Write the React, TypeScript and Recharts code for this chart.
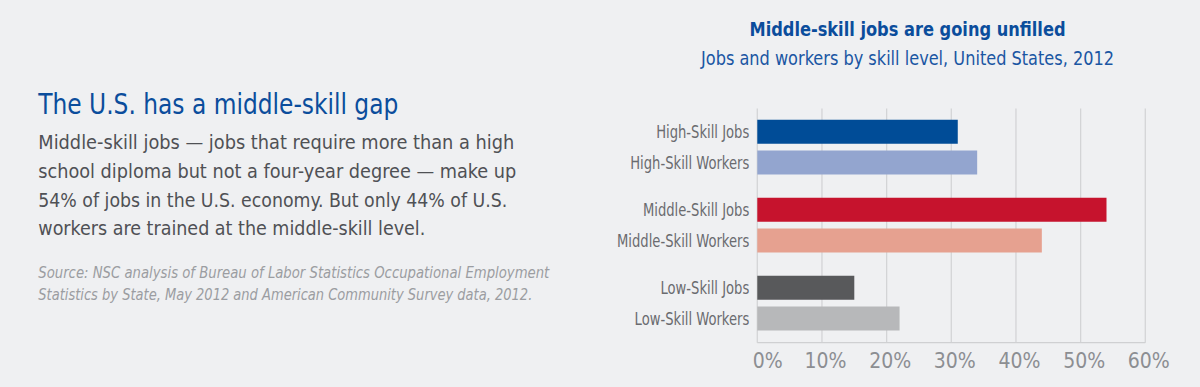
import React from 'react';
import { BarChart, Bar, XAxis, YAxis, CartesianGrid, Cell, LabelList } from 'recharts';

const groups = ['High-Skill', 'Middle-Skill', 'Low-Skill'];
const jobsValues = [31, 54, 15];
const workersValues = [34, 44, 22];
const jobsLabels = ['High-Skill Jobs', 'Middle-Skill Jobs', 'Low-Skill Jobs'];
const workersLabels = ['High-Skill Workers', 'Middle-Skill Workers', 'Low-Skill Workers'];
const jobsColors = ['#004c97', '#c6132d', '#58595b'];
const workersColors = ['#93a5cf', '#e6a190', '#b7b8ba'];
const xTicks = [0, 10, 20, 30, 40, 50, 60];

const title = 'Middle-skill jobs are going unfilled';
const subtitle = 'Jobs and workers by skill level, United States, 2012';
const heading = 'The U.S. has a middle-skill gap';
const bodyLines = [
  'Middle-skill jobs \u2014 jobs that require more than a high',
  'school diploma but not a four-year degree \u2014 make up',
  '54% of jobs in the U.S. economy. But only 44% of U.S.',
  'workers are trained at the middle-skill level.',
];
const sourceLines = [
  'Source: NSC analysis of Bureau of Labor Statistics Occupational Employment',
  'Statistics by State, May 2012 and American Community Survey data, 2012.',
];

const data = groups.map((g, i) => ({
  group: g,
  jobs: jobsValues[i],
  workers: workersValues[i],
  jobsLabel: jobsLabels[i],
  workersLabel: workersLabels[i],
}));

const FONT = "'Liberation Sans Narrow', 'DejaVu Sans Condensed', 'Roboto Condensed', Roboto, 'Liberation Sans', sans-serif";

const renderLabel = (props: any) => {
  const { x, y, height, value } = props;
  const tx = Number(x) - 8;
  const ty = Number(y) + Number(height) / 2;
  return (
    <text
      transform={`translate(${tx},${ty}) scale(0.86,1)`}
      x={0}
      y={0}
      dy="0.36em"
      textAnchor="end"
      fontFamily={FONT}
      fontSize={17}
      fill="#6a6b6f"
    >
      {value}
    </text>
  );
};

const XTick = (props: any) => {
  const { x, y, payload } = props;
  const v = payload.value;
  return (
    <text
      x={v === 0 ? x - 4.5 : x + 3.5}
      y={y}
      dy="0.71em"
      textAnchor={v === 0 ? 'start' : 'middle'}
      fontFamily={FONT}
      fontSize={21}
      fill="#8c8e92"
    >
      {`${v}%`}
    </text>
  );
};

export default function App() {
  return (
    <div
      style={{
        position: 'absolute',
        left: 0,
        top: 0,
        width: 1200,
        height: 387,
        background: '#eff0f2',
        overflow: 'hidden',
      }}
    >
      <svg
        width={1200}
        height={387}
        style={{ position: 'absolute', left: 0, top: 0, pointerEvents: 'none' }}
        fontFamily={FONT}
      >
        <text x={907.5} y={36} textAnchor="middle" fontSize={20} fontWeight="bold" fill="#0b4d9c"
          textLength={316} lengthAdjust="spacingAndGlyphs">{title}</text>
        <text x={907.5} y={65} textAnchor="middle" fontSize={19} fill="#1a56a3"
          textLength={413} lengthAdjust="spacingAndGlyphs">{subtitle}</text>
        <text x={38.3} y={114.3} fontSize={29} fill="#0b4d9c"
          textLength={360} lengthAdjust="spacingAndGlyphs">{heading}</text>
        {bodyLines.map((l, i) => (
          <text key={i} x={38.3} y={[149.3, 177.8, 206.5, 235][i]} fontSize={20} fill="#4f5155"
            textLength={[476, 478, 469, 387][i]} lengthAdjust="spacingAndGlyphs">{l}</text>
        ))}
        {sourceLines.map((l, i) => (
          <text key={i} x={38.3} y={[278.3, 299.5][i]} fontSize={16} fontStyle="italic" fontWeight={300}
            fill="#9b9da1" textLength={[511, 494][i]} lengthAdjust="spacingAndGlyphs">{l}</text>
        ))}
      </svg>
      <div style={{ position: 'absolute', left: 0, top: 0 }}>
        <BarChart
          width={1200}
          height={387}
          data={data}
          layout="vertical"
          margin={{ top: 108.5, right: 54.7, left: 757.3, bottom: 14.3 }}
          barCategoryGap={11.2}
          barGap={6.7}
        >
          <CartesianGrid horizontal={false} vertical={true} stroke="#d3d4d6" strokeWidth={1.3} />
          <XAxis
            type="number"
            domain={[0, 60]}
            ticks={xTicks}
            interval={0}
            height={30}
            axisLine={{ stroke: '#cfd0d2', strokeWidth: 1.3 }}
            tickLine={false}
            tickMargin={4}
            tick={<XTick />}
          />
          <YAxis type="category" dataKey="group" hide width={0} />
          <Bar dataKey="jobs" isAnimationActive={false}>
            {data.map((d, i) => (
              <Cell key={d.group} fill={jobsColors[i]} />
            ))}
            <LabelList dataKey="jobsLabel" content={renderLabel} />
          </Bar>
          <Bar dataKey="workers" isAnimationActive={false}>
            {data.map((d, i) => (
              <Cell key={d.group} fill={workersColors[i]} />
            ))}
            <LabelList dataKey="workersLabel" content={renderLabel} />
          </Bar>
        </BarChart>
      </div>
    </div>
  );
}
